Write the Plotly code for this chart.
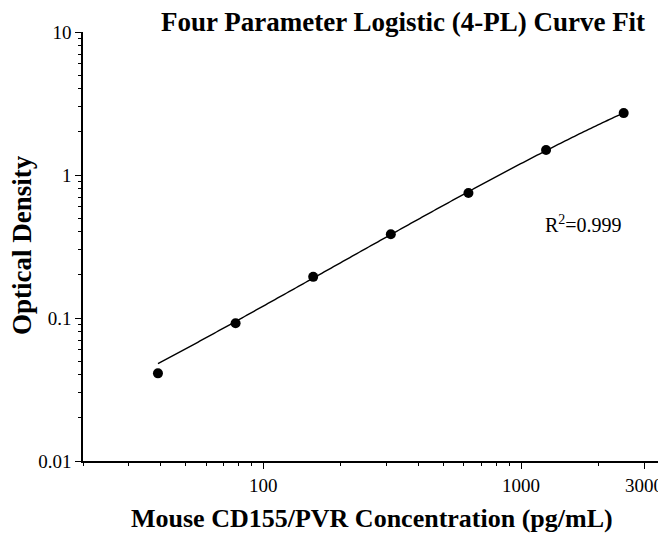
import numpy as np
import plotly.graph_objects as go

# Data
concentration = [39.06, 78.13, 156.25, 312.5, 625, 1250, 2500]
optical_density = [0.041, 0.092, 0.194, 0.385, 0.748, 1.496, 2.71]

# 4-PL fit parameters (estimated from the drawn curve)
fit_A = 0.004   # bottom asymptote
fit_B = 1.05    # slope
fit_C = 8400.0  # inflection
fit_D = 12.4    # top asymptote

x_tickvals = [100, 1000, 3000]
x_ticktext = ["100", "1000", "3000"]
y_tickvals = [0.01, 0.1, 1, 10]
y_ticktext = ["0.01", "0.1", "1", "10"]

title_text = "Four Parameter Logistic (4-PL) Curve Fit"
x_title = "Mouse CD155/PVR Concentration (pg/mL)"
y_title = "Optical Density"
r2_text = "R<sup>2</sup>=0.999"

xf = np.logspace(np.log10(concentration[0]), np.log10(concentration[-1]), 200)
yf = fit_D + (fit_A - fit_D) / (1 + (xf / fit_C) ** fit_B)

FONT = "Liberation Serif, Times New Roman, serif"

# page offset from default body margin
OFF = 8
FW, FH = 666 - OFF, 534 - OFF
# plot area in page pixels
L, R, T, B = 83, 662, 32, 461
W, H = R - L, B - T

def px(xpix):
    return (xpix - L) / W

def py(ypix):
    return (B - ypix) / H

fig = go.Figure()
fig.add_trace(go.Scatter(x=xf, y=yf, mode="lines",
                         line=dict(color="black", width=1.4, simplify=False), showlegend=False))
fig.add_trace(go.Scatter(x=concentration, y=optical_density, mode="markers",
                         marker=dict(color="black", size=10), showlegend=False))

fig.update_layout(
    width=FW, height=FH,
    margin=dict(l=L - OFF, r=666 - R, t=T - OFF, b=534 - B, autoexpand=False),
    plot_bgcolor="white", paper_bgcolor="white",
    font=dict(family=FONT, color="black", size=19),
    showlegend=False,
)
axis_common = dict(
    type="log",
    ticks="outside", ticklen=6, tickwidth=1.2, tickcolor="black",
    showline=True, linecolor="black", linewidth=1.5, mirror=False,
    showgrid=False, zeroline=False, automargin=False,
    tickfont=dict(family=FONT, size=19, color="black"),
    minor=dict(ticks="outside", ticklen=3, tickcolor="black", tickwidth=1, dtick="D1", showgrid=False),
)
fig.update_xaxes(range=[np.log10(20), np.log10(3520)],
                 tickvals=x_tickvals, ticktext=x_ticktext, **axis_common)
fig.update_yaxes(range=[-2, 1],
                 tickvals=y_tickvals, ticktext=y_ticktext, **axis_common)

fig.add_annotation(x=px(403), y=py(22), xref="paper", yref="paper",
                   text="<b>" + title_text + "</b>", showarrow=False,
                   xanchor="center", yanchor="middle",
                   font=dict(family=FONT, size=27, color="black"))
fig.add_annotation(x=px(372), y=py(518), xref="paper", yref="paper",
                   text="<b>" + x_title + "</b>", showarrow=False,
                   xanchor="center", yanchor="middle",
                   font=dict(family=FONT, size=26, color="black"))
fig.add_annotation(x=px(22), y=py(245), xref="paper", yref="paper",
                   text="<b>" + y_title + "</b>", showarrow=False, textangle=-90,
                   xanchor="center", yanchor="middle",
                   font=dict(family=FONT, size=27, color="black"))
fig.add_annotation(x=px(583), y=py(224), xref="paper", yref="paper",
                   text=r2_text, showarrow=False, xanchor="center", yanchor="middle",
                   font=dict(family=FONT, size=20, color="black"))

fig.write_html("out.html")
